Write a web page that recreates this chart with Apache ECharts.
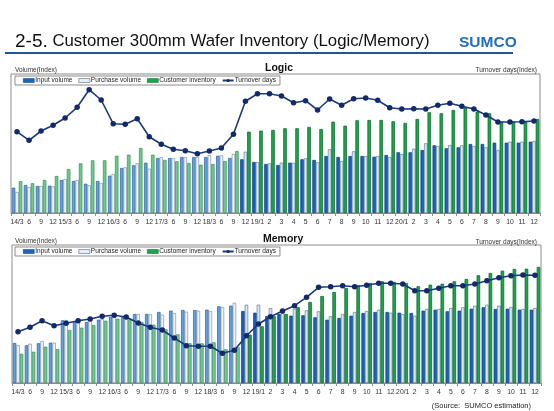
<!DOCTYPE html>
<html><head><meta charset="utf-8">
<script src="https://cdn.jsdelivr.net/npm/echarts@6/dist/echarts.min.js"></script>
<style>html,body{margin:0;padding:0;background:#fff}#c{width:554px;height:411px}</style>
</head><body><div id="c"></div><script>
// ---- data (index values) ----
const categories = ['14/3','6','9','12','15/3','6','9','12','16/3','6','9','12','17/3','6','9','12','18/3','6','9','12',
  '19/1','2','3','4','5','6','7','8','9','10','11','12','20/1','2','3','4','5','6','7','8','9','10','11','12'];

const logicInput = [25.3,28,27,27.3,33,32,29.3,32,37.3,45, 47.7,50.3,55,55,56,56,56,57.3,55,53.7,
  51,49,48,50.3,53.7,53,57,56,57,57, 56.3,58,60.7,60.7,63,67.7,64.7,65.7,69,69, 70.3,70.3,70.3,71.3];
const logicPurchase = [21,26,27,26.7,34,33,27.7,30,39,45.7, 49.7,44.3,56,55,56,56,58,57.7,59,61.3,
  51,49.7,50.3,50.3,54.7,50.7,63.7,52,61.7,57, 57,56,59,64.3,69.7,67,68,67.7,67,65.7, 63,71.3,71.3,72];
const logicInventory = [31.7,29.7,33,37,44,49.7,52.7,52.7,57.3,58.3, 65,58.3,53,51.7,50,48.3,49,52,62,81.3,
  82.3,83,84.7,84.7,86,84,91.3,87.3,92.7,93, 93,91.7,90,94,100.7,99.7,103,105.3,101.3,99.7, 91.3,91.3,91.3,94];
const logicTurnover = [81.3,72.7,82,87.7,95,105.7,123.3,113,89.3,88.7, 94.3,76.3,68.7,63.7,62.3,59.3,62,65,78.7,111.7,
  119.3,119.3,117,110.3,112.3,103,114,107.7,114.3,115, 112.7,105.3,104,104.3,104,107.7,109.7,106.7,104,98, 91,91,91.3,92];

const memInput = [40,37.7,39.7,40.3,62.7,61,61,63.3,66,66, 69,69,71,72.3,73,73,73.3,76.7,77.3,72,
  70.3,67,69,67.3,67.7,65.7,63.3,65,67.3,70, 71,71,70.3,70,72.3,73.3,71.7,72.3,74.3,75.7, 74,74.3,73.3,73.3];
const memPurchase = [38,39.3,42,40.3,63,62.7,62.7,64,66.7,65, 69,68.7,68.3,70,71.3,72.3,72,76,80.3,78.3,
  78.3,75,70,74,72.7,71.7,66.7,69,71,72, 73.3,70.3,69,67.3,74,74,75,75.7,77.3,78.3, 77.3,76,74,75];
const memInventory = [29.3,31.3,36.3,34,53,55.3,58,62.3,64.3,63.7, 61,58.3,53.7,48.7,39.7,39.7,40.7,33.7,35.7,48.3,
  56.7,66.7,69,75.8,81,87,91,95,97.7,100, 101.7,101,100,96.7,98.3,99.3,101.7,104,107.7,110, 112.3,114,114.3,116];
const memTurnover = [51.3,55.7,62.3,57.3,59.7,62.3,64,66.7,67.7,66, 60,55.7,53,45,37.3,36.7,36.7,29.7,32.7,47.3,
  59,66.3,72,77.3,85.7,95.7,96.3,97.3,96.3,97.7, 99.7,99.7,99,92.3,92.3,94.7,97.3,97.3,99,102.3, 105.3,107.3,108,107.7];

const seriesNames = ['Input volume','Purchase volume','Customer inventory','Turnover days'];

// ---- styles ----
const SPLIT = 19; // from 18/12 on the bars are drawn in the strong colours
const st = {
  inputLight: {color:'#62a0dc', borderColor:'#2f6299', borderWidth:0.7},
  inputDark:  {color:'#1663c2', borderColor:'#0b3c7a', borderWidth:0.7},
  purLight:   {color:'#eef4fa', borderColor:'#8593a3', borderWidth:0.7},
  purDark:    {color:'#d7e7f4', borderColor:'#6c7d90', borderWidth:0.7},
  invLight:   {color:'#6ccb8c', borderColor:'#3e8d59', borderWidth:0.7},
  invDark:    {color:'#16a84a', borderColor:'#0b5e2a', borderWidth:0.7}
};
function bars(values, light, dark){ return values.map((v,i)=>({value:v, itemStyle: i<SPLIT ? light : dark})); }

const FONT = 'Liberation Sans, Arial, sans-serif';
const grids = [
  {left:11, top:74, width:529, height:139},
  {left:12, top:245, width:529, height:138}
];
function xAxis(g){ return {gridIndex:g, type:'category', data:categories,
  axisLine:{lineStyle:{color:'#8c8c8c'}},
  axisTick:{show:true, length:3, lineStyle:{color:'#8c8c8c'}},
  axisLabel:{interval:0, fontSize:6.8, color:'#333', fontFamily:FONT, margin:6}}; }
function yAxis(g,max){ return {gridIndex:g, type:'value', min:0, max:max, show:false}; }

function panel(g, input, pur, inv, turn){
  const common = {type:'bar', xAxisIndex:g, yAxisIndex:g*2, barWidth:3.5, barGap:'0%'};
  return [
    Object.assign({name:seriesNames[0], data:bars(input, st.inputLight, st.inputDark), itemStyle:st.inputDark}, common),
    Object.assign({name:seriesNames[1], data:bars(pur, st.purLight, st.purDark), itemStyle:st.purDark}, common),
    Object.assign({name:seriesNames[2], data:bars(inv, st.invLight, st.invDark), itemStyle:st.invDark}, common),
    {name:seriesNames[3], type:'line', xAxisIndex:g, yAxisIndex:g*2+1, data:turn, z:5,
     symbol:'circle', symbolSize:5.5, lineStyle:{color:'#1d3a7e', width:1.6},
     itemStyle:{color:'#12296a'}}
  ];
}
function legend(top){ return {left:15, top:top, orient:'horizontal', itemGap:6, itemWidth:11, itemHeight:4,
  padding:[1,4,1,8], borderColor:'#8c8c8c', borderWidth:1, backgroundColor:'#fff',
  textStyle:{fontSize:6.5, color:'#222', fontFamily:FONT, padding:[0,0,0,-4]},
  data:[{name:seriesNames[0], icon:'rect', itemStyle:{color:'#1663c2', borderColor:'#0b3c7a', borderWidth:0.5}},
        {name:seriesNames[1], icon:'rect', itemStyle:{color:'#e4eff8', borderColor:'#6c7d90', borderWidth:0.7}},
        {name:seriesNames[2], icon:'rect', itemStyle:{color:'#16a84a', borderColor:'#0b5e2a', borderWidth:0.5}},
        {name:seriesNames[3]}]}; }

const small = {fontSize:6.5, color:'#333', fontFamily:FONT, fontWeight:'normal'};
const option = {
  animation:false,
  backgroundColor:'#fff',
  title:[
    {text:'{a|2-5.}{b| Customer 300mm Wafer Inventory (Logic/Memory)}', left:10, top:27,
     textStyle:{fontWeight:'normal', rich:{a:{fontSize:19, fontFamily:FONT, fontWeight:'normal', color:'#111'},
                                           b:{fontSize:16.8, fontFamily:FONT, fontWeight:'normal', color:'#111'}}}},
    {text:'SUMCO', left:454, top:30, textStyle:{fontSize:15.5, fontWeight:'bold', color:'#2370b8', fontFamily:FONT}},
    {text:'Volume(Index)', left:10, top:62, textStyle:small},
    {text:'Turnover days(Index)', right:12, top:62, textStyle:small},
    {text:'Logic', left:260, top:58, textStyle:{fontSize:10.5, fontWeight:'bold', color:'#111', fontFamily:FONT}},
    {text:'Volume(Index)', left:10, top:233, textStyle:small},
    {text:'Turnover days(Index)', right:12, top:234, textStyle:small},
    {text:'Memory', left:258, top:229, textStyle:{fontSize:10.5, fontWeight:'bold', color:'#111', fontFamily:FONT}},
    {text:'(Source:  SUMCO estimation)', right:18, top:397, textStyle:{fontSize:7.5, color:'#222', fontFamily:FONT, fontWeight:'normal'}}
  ],
  graphic:[{type:'rect', shape:{x:5, y:52, width:508, height:2}, style:{fill:'#1f55a0'}}],
  legend:[legend(76), legend(247)],
  grid: grids.map(g=>Object.assign({show:true, borderColor:'#8c8c8c', borderWidth:1, backgroundColor:'#fff'}, g)),
  xAxis:[xAxis(0), xAxis(1)],
  yAxis:[yAxis(0,139), yAxis(0,139), yAxis(1,138), yAxis(1,138)],
  series:[].concat(panel(0, logicInput, logicPurchase, logicInventory, logicTurnover),
                   panel(1, memInput, memPurchase, memInventory, memTurnover))
};
const chart = echarts.init(document.getElementById('c'));
chart.setOption(option);
</script></body></html>
